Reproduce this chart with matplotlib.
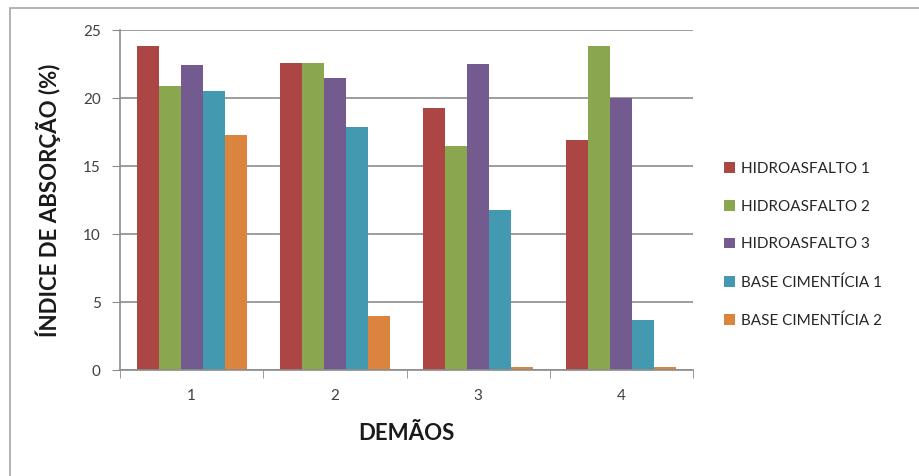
import numpy as np
import matplotlib
matplotlib.use("Agg")
from matplotlib import pyplot as plt
from matplotlib.patches import Rectangle

# Leitura aproximada do gráfico original
demaos = ["1", "2", "3", "4"]
series = ["HIDROASFALTO 1", "HIDROASFALTO 2", "HIDROASFALTO 3",
          "BASE CIMENTÍCIA 1", "BASE CIMENTÍCIA 2"]
hidro1 = [23.8, 22.6, 19.3, 16.9]
hidro2 = [20.9, 22.6, 16.5, 23.8]
hidro3 = [22.4, 21.5, 22.5, 20.0]
base1 = [20.5, 17.9, 11.8, 3.7]
base2 = [17.3, 4.0, 0.2, 0.2]
cores = ["#AB4644", "#8AA64E", "#735A8F", "#4399AF", "#DB843E"]

plt.rcParams['font.family'] = ['Lato', 'DejaVu Sans']

fig = plt.figure(figsize=(9.2, 4.76), dpi=100)
ax = fig.add_axes([120/920, 1-370/476, (693-120)/920, (370-30)/476])

# moldura do gráfico (estilo Excel)
fig.patches.append(Rectangle((10/920, -0.1), 1.2, 1-8/476+0.1,
                             transform=fig.transFigure, fill=False,
                             edgecolor="#A6A6A6", linewidth=1.2))

x = np.arange(len(demaos))
w = 1/6.5
for k, (vals, nome, c) in enumerate(zip([hidro1, hidro2, hidro3, base1, base2], series, cores)):
    ax.bar(x + (k-2)*w, vals, width=w, color=c, label=nome)

ax.set_xlim(-0.5, 3.5)
ax.set_ylim(0, 25)
ax.set_yticks(range(0, 26, 5))
ax.yaxis.grid(True, color="#8C8C8C", linewidth=1.2)
ax.set_axisbelow(True)
ax.set_xticks(x)
ax.set_xticklabels(demaos)
ax.set_xticks(np.arange(-0.5, 4, 1), minor=True)
ax.tick_params(axis="x", which="major", length=0, pad=14, labelsize=11, labelcolor="#404040")
ax.tick_params(axis="x", which="minor", length=6, color="#8C8C8C", direction="out")
ax.tick_params(axis="y", length=6, color="#8C8C8C", labelsize=11, labelcolor="#404040", pad=8)

for s in ["top", "right"]:
    ax.spines[s].set_visible(False)
for s in ["left", "bottom"]:
    ax.spines[s].set_color("#8C8C8C")
    ax.spines[s].set_linewidth(1.2)

ax.set_xlabel("DEMÃOS", fontsize=16, fontweight="bold", color="#1A1A1A", labelpad=14)
ax.set_ylabel("ÍNDICE DE ABSORÇÃO (%)", fontsize=16, fontweight="bold", color="#1A1A1A", labelpad=16)

ax.legend(loc="center left", bbox_to_anchor=(1.03, 0.368), frameon=False,
          fontsize=11, handlelength=0.7, handleheight=0.7, labelspacing=1.55,
          handletextpad=0.4, labelcolor="#262626")

fig.savefig("out.png", dpi=100)
